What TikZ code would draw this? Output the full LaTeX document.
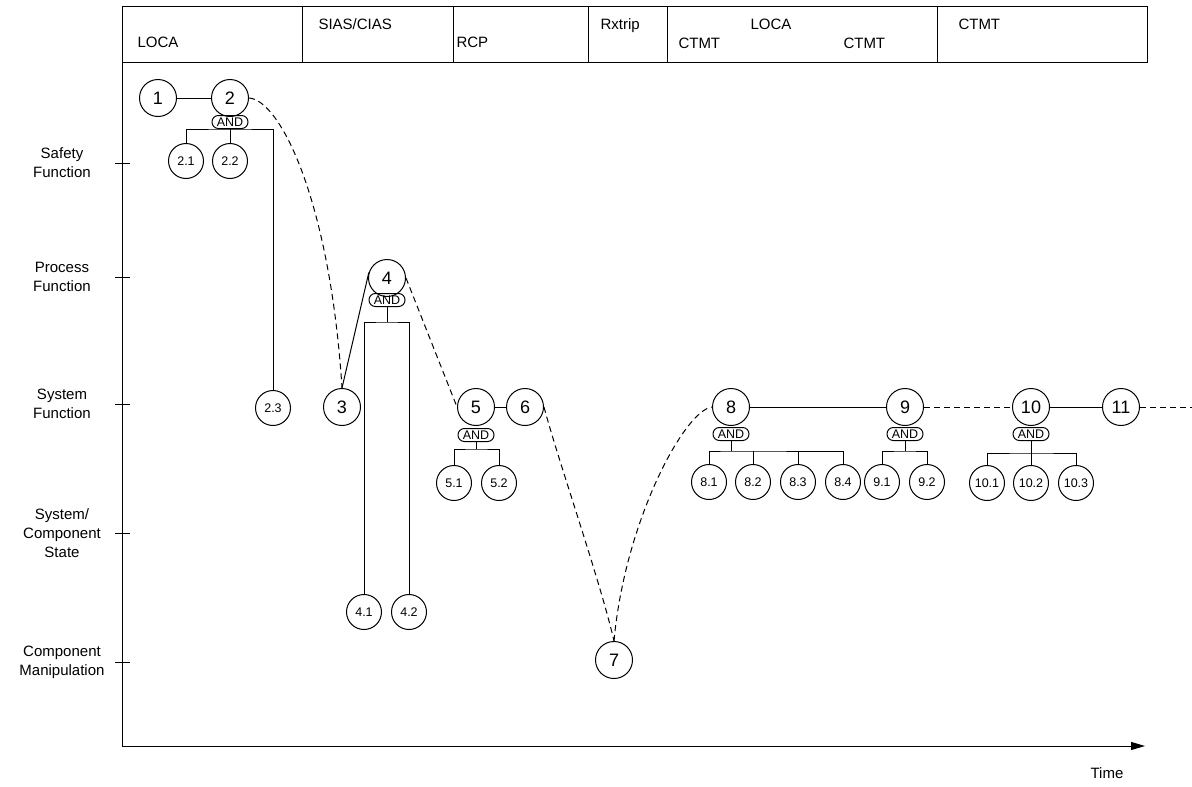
\documentclass[tikz,border=0pt]{standalone}
\usepackage{fontspec}
\setmainfont{Liberation Sans}
\usetikzlibrary{arrows.meta}
\begin{document}
\begin{tikzpicture}[x=1pt,y=-1pt,line width=1pt,
  big/.style={circle,draw,minimum size=37pt,inner sep=0pt,font=\fontsize{18}{18}\selectfont},
  small/.style={circle,draw,minimum size=35pt,inner sep=0pt,font=\fontsize{12.5}{13}\selectfont},
  gate/.style={draw,rounded corners=6.4pt,minimum width=36pt,minimum height=13pt,inner sep=0pt,font=\fontsize{12.5}{13}\selectfont},
  hdr/.style={anchor=base west,inner sep=0pt,font=\fontsize{15}{15}\selectfont},
  lvl/.style={align=center,inner sep=0pt,font=\fontsize{15}{19}\selectfont},
  flow/.style={dash pattern=on 6pt off 4pt},
]
\useasboundingbox (0,0) rectangle (1192,787);

% event header
\draw (122,6) rectangle (1147,62);
\foreach \x in {302,453,588,667,937} \draw (\x,6) -- (\x,62);
\node[hdr] (h1) at (137,47) {LOCA};
\node[hdr] (h2) at (318,30) {SIAS/CIAS};
\node[hdr] (h3) at (456,47) {RCP};
\node[hdr] (h4) at (600,30) {Rxtrip};
\node[hdr] (h5) at (750,30) {LOCA};
\node[hdr] (h6) at (678,48) {CTMT};
\node[hdr] (h7) at (843,48) {CTMT};
\node[hdr] (h8) at (958,30) {CTMT};

% axes
\coordinate (ytop) at (122,62);
\coordinate (origin) at (122,746);
\coordinate (xend) at (1145,746);
\draw[-{Triangle[length=14pt,width=8pt]}] (ytop) -- (origin) -- (xend);
\node[font=\fontsize{15}{15}\selectfont] (time) at (1107,773) {Time};

% abstraction levels
\foreach \y in {163,277,404,533,662} \draw (115,\y) -- (130,\y);
\node[lvl] (l1) at (62,163) {Safety\\Function};
\node[lvl] (l2) at (62,277) {Process\\Function};
\node[lvl] (l3) at (62,404) {System\\Function};
\node[lvl] (l4) at (62,533) {System/\\Component\\State};
\node[lvl] (l5) at (62,662) {Component\\Manipulation};

% goal nodes
\node[big] (n1) at (158,98) {1};
\node[big] (n2) at (230,98) {2};
\node[gate] (a2) at (230,122) {AND};
\node[small] (n21) at (186,161) {2.1};
\node[small] (n22) at (230,161) {2.2};
\node[small] (n23) at (273,408) {2.3};

\node[big] (n3) at (342,407) {3};
\node[big] (n4) at (387,278) {4};
\node[gate] (a4) at (387,300) {AND};
\node[small] (n41) at (364,612) {4.1};
\node[small] (n42) at (409,612) {4.2};

\node[big] (n5) at (476,407) {5};
\node[big] (n6) at (525,407) {6};
\node[gate] (a5) at (476,435) {AND};
\node[small] (n51) at (454,483) {5.1};
\node[small] (n52) at (499,483) {5.2};

\node[big] (n7) at (614,660) {7};

\node[big] (n8) at (731,407) {8};
\node[gate] (a8) at (731,434) {AND};
\node[small] (n81) at (709,482) {8.1};
\node[small] (n82) at (753,482) {8.2};
\node[small] (n83) at (798,482) {8.3};
\node[small] (n84) at (843,482) {8.4};

\node[big] (n9) at (905,407) {9};
\node[gate] (a9) at (905,434) {AND};
\node[small] (n91) at (882,482) {9.1};
\node[small] (n92) at (927,482) {9.2};

\node[big] (n10) at (1031,407) {10};
\node[gate] (a10) at (1031,434) {AND};
\node[small] (n101) at (987,483) {10.1};
\node[small] (n102) at (1031,483) {10.2};
\node[small] (n103) at (1076,483) {10.3};

\node[big] (n11) at (1121,407) {11};
\coordinate (out) at (1192,407);

% decomposition trees
\coordinate (b2) at (230,129);
\draw (a2.south) -- (b2);
\draw (n21.north) |- (b2) -| (n23.north);
\draw (n22.north) -- (n22.north |- b2);

\coordinate (b4) at (387,322);
\draw (a4.south) -- (b4);
\draw (n41.north) |- (b4) -| (n42.north);

\coordinate (b5) at (476,449);
\draw (a5.south) -- (b5);
\draw (n51.north) |- (b5) -| (n52.north);

\coordinate (b8) at (731,451);
\draw (a8.south) -- (b8);
\draw (n81.north) |- (b8) -| (n84.north);
\draw (n82.north) -- (n82.north |- b8);
\draw (n83.north) -- (n83.north |- b8);

\coordinate (b9) at (905,451);
\draw (a9.south) -- (b9);
\draw (n91.north) |- (b9) -| (n92.north);

\coordinate (b10) at (1031,453);
\draw (a10.south) -- (b10);
\draw (n101.north) |- (b10) -| (n103.north);
\draw (n102.north) -- (n102.north |- b10);

% sequence links
\draw (n1) -- (n2);
\draw (n3.north) -- (n4.163);
\draw (n5) -- (n6);
\draw (n8) -- (n9);
\draw (n10) -- (n11);

\draw[flow] (n2.east) .. controls (280,100) and (330,200) .. (n3.north);
\draw[flow] (n4.east) -- (n5.west);
\draw[flow] (n6.east) .. controls (558,460) and (600,580) .. (n7.north);
\draw[flow] (n7.north) .. controls (625,520) and (685,410) .. (n8.west);
\draw[flow] (n9) -- (n10);
\draw[flow] (n11) -- (out);
\end{tikzpicture}
\end{document}
